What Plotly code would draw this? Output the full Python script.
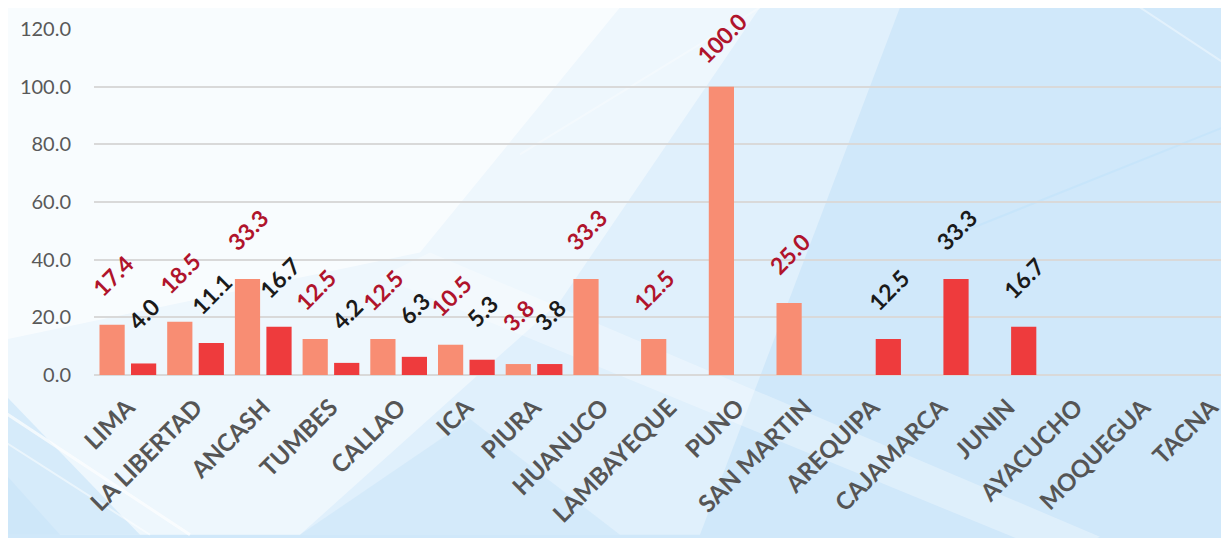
import plotly.graph_objects as go

# data
regions = [
    "LIMA", "LA LIBERTAD", "ANCASH", "TUMBES", "CALLAO", "ICA", "PIURA",
    "HUANUCO", "LAMBAYEQUE", "PUNO", "SAN MARTIN", "AREQUIPA", "CAJAMARCA",
    "JUNIN", "AYACUCHO", "MOQUEGUA", "TACNA",
]
serie_1 = [17.4, 18.5, 33.3, 12.5, 12.5, 10.5, 3.8, 33.3, 12.5, 100.0, 25.0,
           None, None, None, None, None, None]
serie_2 = [4.0, 11.1, 16.7, 4.2, 6.3, 5.3, 3.8, None, None, None, None,
           12.5, 33.3, 16.7, None, None, None]
y_ticks = [0, 20, 40, 60, 80, 100, 120]

W, H = 1229, 538
# the page puts the figure 8px in from the corner, so margins are shifted
OFF = 8
L, R, T, B = 94 - OFF, OFF, 22 - OFF, 163 + OFF

SALMON = "#f88d73"
RED = "#ee3b3d"
LABEL_RED = "#b0142c"
LABEL_BLACK = "#1a1a1a"


def px(x, y):
    """screen pixel position -> paper coords (background decoration only)"""
    x, y = x - OFF, y - OFF
    return (x - L) / (W - L - R), (H - B - y) / (H - T - B)


def poly(points, color, opacity):
    path = ""
    for i, (x, y) in enumerate(points):
        xp, yp = px(x, y)
        path += ("M" if i == 0 else "L") + f"{xp:.4f},{yp:.4f} "
    return dict(type="path", path=path + "Z", xref="paper", yref="paper",
                fillcolor=color, opacity=opacity, line=dict(width=0),
                layer="below")


def streak(x0, y0, x1, y1, color, width, opacity):
    a, b = px(x0, y0)
    c, d = px(x1, y1)
    return dict(type="line", x0=a, y0=b, x1=c, y1=d, xref="paper",
                yref="paper", line=dict(color=color, width=width),
                opacity=opacity, layer="below")


shapes = [
    poly([(0, 0), (900, 0), (700, 538), (0, 538)], "white", 0.35),
    poly([(0, 0), (760, 0), (560, 300), (300, 538), (60, 538), (0, 470)],
         "white", 0.45),
    poly([(0, 0), (620, 0), (420, 250), (0, 340)], "white", 0.6),
    poly([(430, 250), (1100, 540), (1060, 560), (380, 275)], "white", 0.3),
    poly([(0, 390), (0, 538), (140, 538)], "#b9dcf6", 0.45),
    poly([(300, 538), (470, 420), (620, 538)], "#c2e1f8", 0.4),
    streak(0, 410, 190, 538, "white", 3, 0.7),
    streak(0, 440, 150, 538, "white", 2, 0.5),
    streak(520, 150, 760, 0, "white", 2, 0.35),
    streak(1140, 0, 1229, 60, "white", 2, 0.4),
    streak(960, 230, 1229, 120, "#bfe3fb", 2, 0.5),
]

fig = go.Figure()
fig.add_trace(go.Bar(x=regions, y=serie_1, name="Serie 1",
                     marker=dict(color=SALMON, line=dict(width=0))))
fig.add_trace(go.Bar(x=regions, y=serie_2, name="Serie 2",
                     marker=dict(color=RED, line=dict(width=0))))

# rotated value labels, placed above each bar like Excel's outside-end labels
slot = 31.5
for vals, shift, color in [(serie_1, -slot / 2, LABEL_RED),
                           (serie_2, slot / 2, LABEL_BLACK)]:
    for reg, v in zip(regions, vals):
        if v is None:
            continue
        fig.add_annotation(
            x=reg, y=v, text=f"{v:.1f}", showarrow=False, textangle=-45,
            xshift=shift, yshift=49,
            font=dict(family="Lato", size=23, color=color, weight="bold"),
        )

fig.update_layout(
    width=W, height=H,
    margin=dict(l=L, r=R, t=T, b=B),
    paper_bgcolor="#d0e8fa",
    plot_bgcolor="rgba(0,0,0,0)",
    barmode="group",
    bargap=0.069,
    bargroupgap=0.2,
    showlegend=False,
    shapes=shapes,
)
fig.update_xaxes(
    range=[-0.5, 16.265],
    tickangle=-45,
    ticks="outside", ticklen=0, ticklabelstandoff=8,
    tickfont=dict(family="Lato", size=24, color="#555555", weight="bold"),
    showgrid=False, showline=False, zeroline=False,
)
fig.update_yaxes(
    range=[0, 120],
    tickvals=y_ticks,
    tickformat=".1f",
    ticklabelstandoff=22,
    tickfont=dict(family="Lato", size=20, color="#595959"),
    gridcolor="#d9d9d9", gridwidth=2,
    zeroline=True, zerolinecolor="#d9d9d9", zerolinewidth=2,
    showline=False,
)

fig.write_html("out.html")
